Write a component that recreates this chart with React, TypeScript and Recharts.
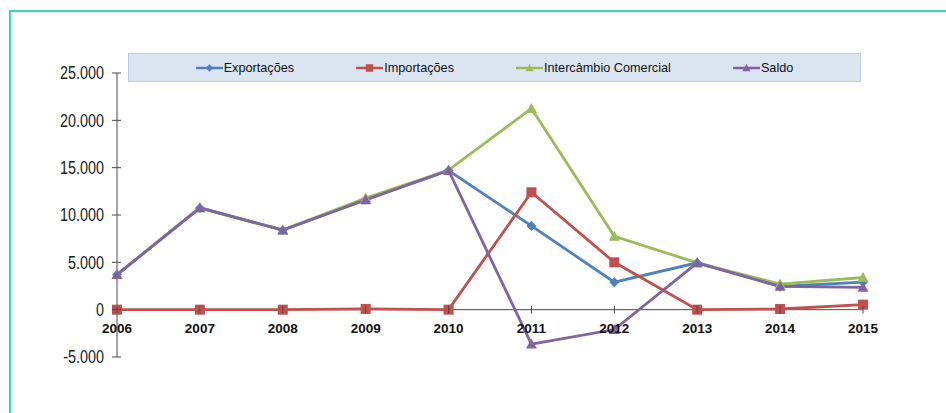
import React from 'react'
import { LineChart, Line, XAxis, YAxis, ReferenceLine, Legend } from 'recharts'

const years = ['2006', '2007', '2008', '2009', '2010', '2011', '2012', '2013', '2014', '2015']
const exportacoes = [3700, 10750, 8400, 11650, 14700, 8850, 2900, 4950, 2450, 2900]
const importacoes = [0, 0, 0, 80, 0, 12400, 5000, 0, 70, 530]
const intercambio = [3700, 10750, 8400, 11800, 14750, 21250, 7750, 4950, 2700, 3400]
const saldo = [3700, 10750, 8400, 11600, 14700, -3650, -2100, 4950, 2450, 2350]
const yTicks = [-5000, 0, 5000, 10000, 15000, 20000, 25000]

const series = [
  { key: 'exp', name: 'Exportações', color: '#4f81bd', shape: 'diamond' },
  { key: 'imp', name: 'Importações', color: '#c0504d', shape: 'square' },
  { key: 'int', name: 'Intercâmbio Comercial', color: '#9bbb59', shape: 'triangle' },
  { key: 'sal', name: 'Saldo', color: '#8064a2', shape: 'triangle' },
]

const data = years.map((year, i) => ({
  year,
  exp: exportacoes[i],
  imp: importacoes[i],
  int: intercambio[i],
  sal: saldo[i],
}))

const W = 946
const H = 413
const margin = { top: 73, right: 83, bottom: 26, left: 57 }
const xAxisHeight = 30
const plotHeight = H - margin.top - margin.bottom - xAxisHeight
const yMin = -5000
const yMax = 25000
// distance from bottom of plot up to the zero line
const zeroOffset = (plotHeight * (0 - yMin)) / (yMax - yMin)

const axisColor = '#4a4a4a'
const sans = "'Liberation Sans', Arial, sans-serif"

const fmt = (v: number) => {
  const s = Math.abs(v).toString().replace(/\B(?=(\d{3})+(?!\d))/g, '.')
  return v < 0 ? '-' + s : s
}

function Marker({ shape, cx, cy, color, size = 1 }: any) {
  if (cx == null || cy == null) return null
  if (shape === 'diamond') {
    const r = 5 * size
    return <polygon points={`${cx},${cy - r} ${cx + r},${cy} ${cx},${cy + r} ${cx - r},${cy}`} fill={color} />
  }
  if (shape === 'square') {
    const r = 5 * size
    return <rect x={cx - r} y={cy - r} width={r * 2} height={r * 2} fill={color} />
  }
  const r = 5.5 * size
  return <polygon points={`${cx},${cy - r} ${cx + r},${cy + r * 0.8} ${cx - r},${cy + r * 0.8}`} fill={color} />
}

// condensed look of the original labels
const YTick = ({ x, y, payload }: any) => (
  <g>
    <line x1={x - 5} x2={x + 4} y1={y} y2={y} stroke={axisColor} />
    <text
      x={0}
      y={0}
      dy="0.36em"
      transform={`translate(${x - 13},${y}) scale(0.82,1)`}
      textAnchor="end"
      fill="#1a1a1a"
      fontSize={17.5}
      fontFamily={sans}
    >
      {fmt(payload.value)}
    </text>
  </g>
)

const XTick = ({ x, y, payload }: any) => {
  const y0 = y - zeroOffset
  return (
    <g>
      <line x1={x} x2={x} y1={y0 - 4} y2={y0 + 4} stroke={axisColor} />
      <text x={x} y={y0 + 23} textAnchor="middle" fill="#111" fontSize={13.5} fontWeight="bold" fontFamily={sans}>
        {payload.value}
      </text>
    </g>
  )
}

const LegendBox = () => (
  <div
    style={{
      width: 733,
      height: 29,
      boxSizing: 'border-box',
      background: '#dbe5f1',
      border: '1px solid #b9cde5',
      display: 'flex',
      alignItems: 'center',
      justifyContent: 'center',
      gap: 62,
      fontFamily: sans,
      fontSize: 12.7,
      color: '#111',
    }}
  >
    {series.map((s) => (
      <div key={s.key} style={{ display: 'flex', alignItems: 'center' }}>
        <svg width={27} height={12} style={{ marginRight: 1 }}>
          <line x1={0} x2={27} y1={6} y2={6} stroke={s.color} strokeWidth={2.5} />
          <Marker shape={s.shape} cx={13.5} cy={6} color={s.color} size={0.75} />
        </svg>
        <span>{s.name}</span>
      </div>
    ))}
  </div>
)

export default function App() {
  return (
    <div style={{ position: 'fixed', left: 0, top: 0, width: W, height: H, background: '#fff' }}>
      <div
        style={{
          position: 'absolute',
          left: 9,
          top: 10,
          right: 0,
          bottom: 0,
          borderTop: '2px solid #35d6c6',
          borderLeft: '2px solid #35d6c6',
        }}
      />
      <LineChart width={W} height={H} data={data} margin={margin} style={{ position: 'absolute', left: 0, top: 0 }}>
        <XAxis
          dataKey="year"
          axisLine={false}
          tickLine={false}
          tickSize={0}
          tickMargin={0}
          height={xAxisHeight}
          tick={<XTick />}
          interval={0}
        />
        <YAxis
          domain={[yMin, yMax]}
          ticks={yTicks}
          width={60}
          axisLine={{ stroke: axisColor }}
          tickLine={false}
          tickSize={0}
          tickMargin={0}
          tick={<YTick />}
          interval={0}
        />
        <ReferenceLine y={0} stroke={axisColor} />
        <Legend
          layout="horizontal"
          verticalAlign="middle"
          align="center"
          wrapperStyle={{ left: 128, top: 53, width: 733 }}
          content={() => <LegendBox />}
        />
        {series.map((s) => (
          <Line
            key={s.key}
            dataKey={s.key}
            name={s.name}
            stroke={s.color}
            strokeWidth={2.8}
            isAnimationActive={false}
            dot={(p: any) => <Marker key={`${s.key}-${p.index}`} shape={s.shape} cx={p.cx} cy={p.cy} color={s.color} />}
            activeDot={false}
          />
        ))}
      </LineChart>
    </div>
  )
}
